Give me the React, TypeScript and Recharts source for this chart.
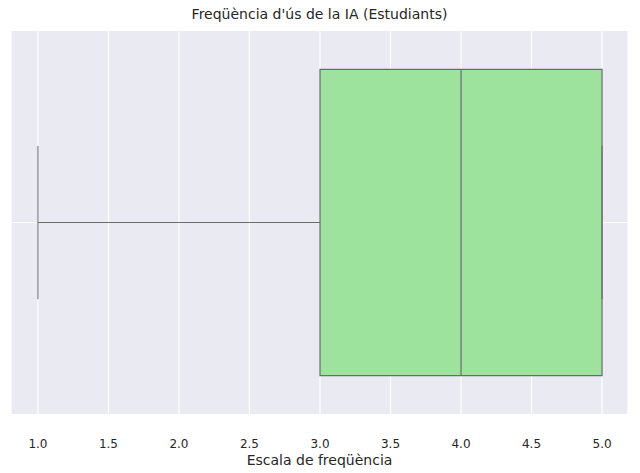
import React from 'react'
import {
  ScatterChart,
  Scatter,
  XAxis,
  YAxis,
  CartesianGrid,
  ReferenceArea,
  ReferenceLine,
} from 'recharts'

// five-number summary
const statNames = ['min', 'q1', 'median', 'q3', 'max']
const statValues = [1, 3, 4, 5, 5]
const xTicks = [1.0, 1.5, 2.0, 2.5, 3.0, 3.5, 4.0, 4.5, 5.0]

const stats: Record<string, number> = {}
statNames.forEach((n, i) => (stats[n] = statValues[i]))

const BOX = 0.4
const CAP = 0.2
const EDGE = '#6b6b6b'

if (typeof document !== 'undefined') document.body.style.margin = '0'

export default function App() {
  return (
    <div style={{ position: 'relative', width: 640, height: 473, fontFamily: 'DejaVu Sans', background: '#fff' }}>
      <div style={{ position: 'absolute', top: 6, left: 11, width: 617, textAlign: 'center', fontSize: 14, color: '#262626' }}>
        Freqüència d'ús de la IA (Estudiants)
      </div>
      <ScatterChart width={640} height={473} margin={{ top: 31, right: 12, bottom: 0, left: 11 }}>
        <CartesianGrid stroke="#fff" strokeWidth={1.2} fill="#eaeaf2" fillOpacity={1} horizontalValues={[0]} />
        <XAxis
          type="number"
          dataKey="x"
          domain={[0.809, 5.184]}
          ticks={xTicks}
          tickFormatter={v => v.toFixed(1)}
          tick={{ fontSize: 12, fill: '#262626' }}
          tickLine={false}
          axisLine={false}
          tickMargin={19}
          height={59}
          allowDataOverflow
          label={{ value: 'Escala de freqüència', position: 'insideTop', offset: 41, fontSize: 14, fill: '#262626' }}
        />
        <YAxis type="number" dataKey="y" domain={[-0.5, 0.5]} hide width={0} allowDataOverflow />
        <ReferenceLine segment={[{ x: stats.min, y: 0 }, { x: stats.q1, y: 0 }]} stroke={EDGE} />
        <ReferenceLine segment={[{ x: stats.q3, y: 0 }, { x: stats.max, y: 0 }]} stroke={EDGE} />
        <ReferenceLine segment={[{ x: stats.min, y: -CAP }, { x: stats.min, y: CAP }]} stroke={EDGE} />
        <ReferenceLine segment={[{ x: stats.max, y: -CAP }, { x: stats.max, y: CAP }]} stroke={EDGE} />
        <ReferenceArea x1={stats.q1} x2={stats.q3} y1={-BOX} y2={BOX} fill="#9de29d" fillOpacity={1} stroke={EDGE} strokeWidth={1.2} />
        <ReferenceLine segment={[{ x: stats.median, y: -BOX }, { x: stats.median, y: BOX }]} stroke={EDGE} strokeWidth={1.2} />
        <Scatter data={[{ x: stats.median, y: 0 }]} shape={() => null} isAnimationActive={false} />
      </ScatterChart>
    </div>
  )
}
